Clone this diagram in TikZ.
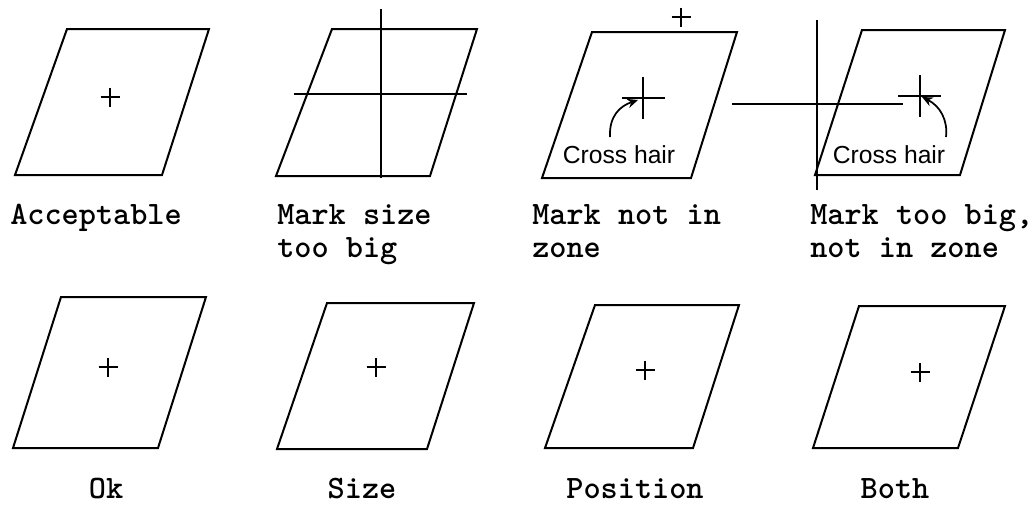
\documentclass[tikz,border=0pt]{standalone}
\usepackage{fontspec}
\newfontfamily\chfont{Liberation Sans}
\usetikzlibrary{arrows.meta}
\newcommand\lblfont{\fontsize{24.5pt}{24.75pt}\selectfont\ttfamily\bfseries}
\begin{document}
\begin{tikzpicture}[x=0.75pt,y=-0.75pt,
  frame/.style={line width=1.5pt,line join=miter},
  markline/.style={line width=1.2pt},
  lbl/.style={font=\lblfont,inner sep=0pt,align=left,anchor=north west},
  lbl2/.style={font=\lblfont,inner sep=0pt,anchor=base},
  chtext/.style={font=\chfont\fontsize{18.5pt}{20pt}\selectfont,inner sep=0pt},
  chair/.style={line width=1.3pt,-{Stealth[length=8pt,width=7pt]}},
  plusmark/.pic={\draw[markline] (-9.5,0)--(9.5,0) (0,-9.5)--(0,9.5);}]
\useasboundingbox (0,0) rectangle (1034,504);
% top row frames
\draw[frame] (67,29)--(209,29)--(162,175)--(15,175)--cycle;
\draw[frame] (332,29)--(477,29)--(430,176)--(276,176)--cycle;
\draw[frame] (592,32)--(737,32)--(691,178)--(542,178)--cycle;
\draw[frame] (862,30)--(1005,30)--(960,175)--(815,175)--cycle;
% bottom row frames
\draw[frame] (61,297)--(206,297)--(158,448)--(13,448)--cycle;
\draw[frame] (327,303)--(474,303)--(427,449)--(277,449)--cycle;
\draw[frame] (595,305)--(739,305)--(693,448)--(545,448)--cycle;
\draw[frame] (859,306)--(1005,306)--(958,448)--(813,448)--cycle;
% plus marks
\pic at (110,97) {plusmark};
\pic at (681,17) {plusmark};
\pic at (108,367) {plusmark};
\pic at (376,367) {plusmark};
\pic at (645,370) {plusmark};
\pic at (920,372) {plusmark};
% big mark in panel 2
\draw[frame] (381,9)--(381,178) (294,94)--(467,94);
% big mark across panels 3-4
\draw[frame] (817,20)--(817,190) (732,104)--(903,104);
% cross hairs
\draw[markline] (643,77)--(643,119) (622,98)--(665,98);
\draw[markline] (920,75)--(920,117) (898,96)--(941,96);
\coordinate (a3s) at (610,137);
\coordinate (a3e) at (638,100);
\coordinate (a4s) at (946,137);
\coordinate (a4e) at (922,97);
\draw[chair] (a3s) .. controls (609,116) and (620,106) .. (a3e);
\draw[chair] (a4s) .. controls (948,120) and (940,106) .. (a4e);
\node[chtext] (ch3) at (619,155) {Cross hair};
\node[chtext] (ch4) at (889,155) {Cross hair};
% labels
\node[lbl] (l1) at (10,204) {Acceptable};
\node[lbl] (l2) at (277,204) {Mark size\\too big};
\node[lbl] (l3) at (532,204) {Mark not in\\zone};
\node[lbl] (l4) at (810,204) {Mark too big,\\not in zone};
\node[lbl2] (b1) at (106,498) {Ok};
\node[lbl2] (b2) at (362,498) {Size};
\node[lbl2] (b3) at (635,498) {Position};
\node[lbl2] (b4) at (895,498) {Both};
\end{tikzpicture}
\end{document}
